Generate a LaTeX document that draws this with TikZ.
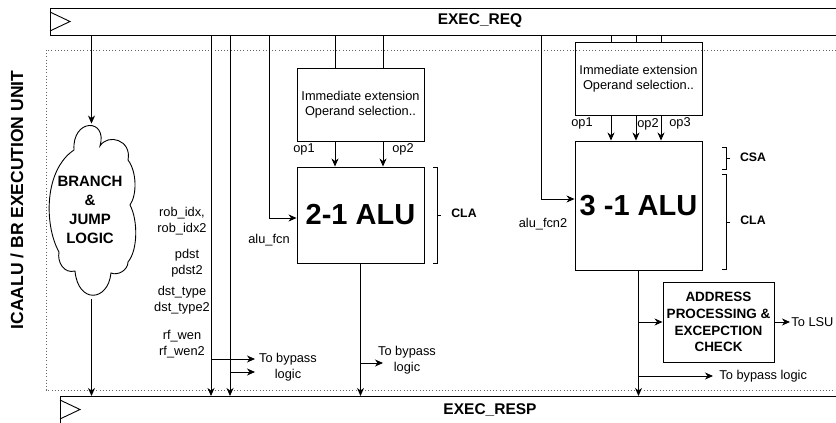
\documentclass[tikz,border=0pt]{standalone}
\usepackage{fontspec}
\setmainfont{Liberation Sans}
\usetikzlibrary{arrows.meta}

\begin{document}
\begin{tikzpicture}[x=1pt, y=-1pt, line width=0.9pt,
    font=\fontsize{12.8}{15.5}\selectfont,
    sig/.style={-{Stealth[length=8pt,width=7pt,inset=2.5pt]}},
    bar/.style={draw, minimum width=800, minimum height=27, inner sep=0, anchor=north west},
    title/.style={font=\bfseries\fontsize{15.5}{18}\selectfont},
    unitbox/.style={draw=black!60, line width=0.9pt, dash pattern=on 1pt off 2.2pt},
    block/.style={draw, minimum width=127, inner sep=2pt, align=center},
    alu/.style={block, font=\bfseries\fontsize{29}{32}\selectfont},
    bold/.style={font=\bfseries\fontsize{13.5}{16.7}\selectfont, align=center},
    tag/.style={font=\bfseries\fontsize{12.3}{15}\selectfont},
    sigtxt/.style={align=center, font=\fontsize{12.8}{15.5}\selectfont}]
    \useasboundingbox (0,0) rectangle (836,423);

    \draw[unitbox] (46,50) rectangle (850,390);

    \node[bar] at (50,8) (req) {};
    \node[bar] at (60,396) (resp) {};
    \draw (req.north west) ++(0,4) -- ++(20,9.5) -- ++(-20,9.5);
    \draw (resp.north west) ++(0,4) -- ++(20,9.5) -- ++(-20,9.5);
    \node[title] at (480,21) (reqname) {EXEC\_REQ};
    \node[title] at (490,410) (respname) {EXEC\_RESP};
    \node[font=\bfseries\fontsize{17.5}{20}\selectfont, rotate=90] at (17,200) (unit) {ICAALU / BR EXECUTION UNIT};

    \node[minimum width=83, minimum height=175, inner sep=0] at (91.5,211.5) (brj) {};
    \draw (74,150) .. controls (72,118) and (108,118) .. (100,146)
        .. controls (108,133) and (132,140) .. (128,160)
        .. controls (137,172) and (137,195) .. (130,205)
        .. controls (138,220) and (138,250) .. (128,262)
        .. controls (128,270) and (118,276) .. (111,273)
        .. controls (108,302) and (78,304) .. (75,271)
        .. controls (64,274) and (57,262) .. (59,252)
        .. controls (44,225) and (44,170) .. (74,150) -- cycle;
    \node[font=\bfseries\fontsize{15}{19}\selectfont, align=center] at (90,209.5) (brjtxt) {BRANCH\\\&\\JUMP\\LOGIC};

    \node[block, minimum height=73] at (360.5,104.5) (imm) {Immediate extension\\Operand selection..};
    \node[alu, minimum height=96] at (360.5,215) (alu) {2-1 ALU};
    \node[block, minimum height=73] at (638.5,78.5) (imm3) {Immediate extension\\Operand selection..};
    \node[alu, minimum height=129] at (638.5,205.5) (alu3) {3 -1 ALU};
    \node[bold, draw, minimum width=111, minimum height=80, inner sep=1pt] at (718.5,322) (addr) {ADDRESS\\PROCESSING \&\\EXCEPCTION\\CHECK};

    \draw[sig] (req.south -| brj) -- (brj.north);
    \draw[sig] (brj.south) -- (resp.north -| brj);

    \coordinate (tapa) at (211,0);
    \coordinate (tapb) at (230,0);
    \coordinate (tapc) at (269,0);
    \coordinate (tapd) at (541,0);
    \draw[sig] (req.south -| tapa) -- (resp.north -| tapa);
    \draw[sig] (req.south -| tapb) -- (resp.north -| tapb);
    \draw[sig] (req.south -| tapc) |- ([yshift=-3pt]alu.west);
    \draw[sig] (req.south -| tapd) |- ([yshift=6.5pt]alu3.west);

    \foreach \dx [count=\i] in {-25.5,22.5} {
        \coordinate (op\i) at ([xshift=\dx pt]imm.north);
        \draw (req.south -| op\i) -- (op\i);
        \draw[sig] (imm.south -| op\i) -- (alu.north -| op\i);
    }
    \foreach \dx [count=\i] in {-27.5,-2.5,22.5} {
        \coordinate (opc\i) at ([xshift=\dx pt]imm3.north);
        \draw (req.south -| opc\i) -- (opc\i);
        \draw[sig] (imm3.south -| opc\i) -- (alu3.north -| opc\i);
    }

    \coordinate (bya) at (255,359);
    \coordinate (byb) at (255,372);
    \coordinate (byc) at (383,363);
    \coordinate (byd) at (713,376);
    \coordinate (lsu) at (790,322);
    \draw[sig] (bya -| tapa) -- (bya);
    \draw[sig] (byb -| tapb) -- (byb);
    \draw[sig] (alu.south) -- (resp.north -| alu.south);
    \draw[sig] (byc -| alu.south) -- (byc);
    \draw[sig] (alu3.south) -- (resp.north -| alu3.south);
    \draw[sig] (addr.west -| alu3.south) -- (addr.west);
    \draw[sig] (byd -| alu3.south) -- (byd);
    \draw[sig] (addr.east) -- (lsu);

    \node[sigtxt] at (182,221) (robidx) {rob\_idx,\\rob\_idx2};
    \node[sigtxt] at (187,263) (pdst) {pdst\\pdst2};
    \node[sigtxt] at (182,300) (dsttype) {dst\_type\\dst\_type2};
    \node[sigtxt] at (182,344) (rfwen) {rf\_wen\\rf\_wen2};
    \node[sigtxt] at (288,367) (bypa) {To bypass\\logic};
    \node[sigtxt] at (407,360) (bypb) {To bypass\\logic};
    \node[sigtxt, anchor=west, inner sep=1pt] at (byd) (bypc) {\hspace{5pt}To bypass logic};
    \node[sigtxt, anchor=west, inner sep=1pt] at (lsu) (lsutxt) {To LSU};
    \node[sigtxt] at (269,240) (alufcn) {alu\_fcn};
    \node[sigtxt] at (543,224) (alufcn2) {alu\_fcn2};
    \node[sigtxt] at (304,149) (opa) {op1};
    \node[sigtxt] at (403,149) (opb) {op2};
    \node[sigtxt] at (582,123) (opd) {op1};
    \node[sigtxt] at (648,124) (ope) {op2};
    \node[sigtxt] at (680,123) (opf) {op3};

    \draw (433,167) -- (437,167) -- (437,263) -- (433,263) (437,215) -- (441,215);
    \node[tag] at (464,213) (cla) {CLA};
    \draw (722,147) -- (726,147) -- (726,169) -- (722,169) (726,158) -- (730,158);
    \node[tag] at (753,157) (csa) {CSA};
    \draw (722,174) -- (726,174) -- (726,269) -- (722,269) (726,222) -- (730,222);
    \node[tag] at (753,220) (cla3) {CLA};
\end{tikzpicture}
\end{document}
